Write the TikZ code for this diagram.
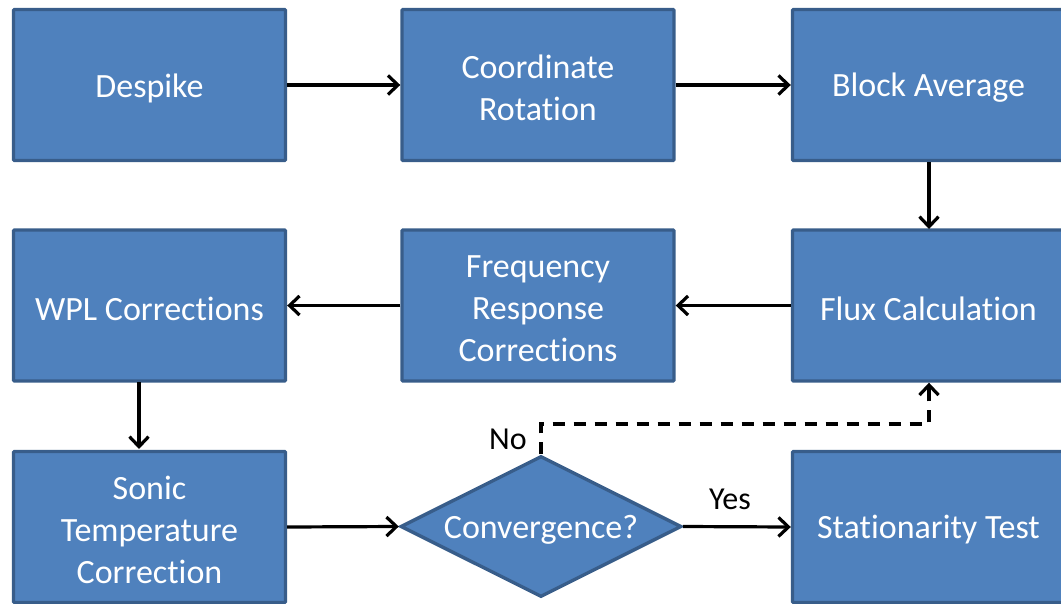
\documentclass[tikz,border=0pt]{standalone}
\usepackage{fontspec}
\setmainfont{Carlito}[Ligatures=NoCommon]
\usetikzlibrary{shapes.geometric,arrows.meta}
\definecolor{boxfill}{HTML}{4F81BD}
\definecolor{boxedge}{HTML}{385D8A}
\tikzset{
  stepbox/.style={rectangle, fill=boxfill, draw=boxedge, line width=3.4pt,
    minimum width=272pt, minimum height=151pt, rounded corners=1pt, inner sep=0pt},
  boxtext/.style={text=white, align=center, font=\fontsize{34}{42}\selectfont,
    inner sep=0pt, yshift=-3pt},
  decide/.style={diamond, fill=boxfill, draw=boxedge, line width=3.4pt,
    minimum width=281pt, minimum height=141pt, inner sep=0pt},
  tip/.style={-{Straight Barb[length=10pt,width=19pt,line width=3.2pt]}},
  flow/.style={line width=3.2pt, tip},
  lbl/.style={text=black, font=\fontsize{32}{38}\selectfont, inner sep=0pt}
}
\begin{document}
\begin{tikzpicture}[x=1pt,y=-1pt]
\useasboundingbox (0,0) rectangle (1061,603);
\clip (0,0) rectangle (1061,603);
\node[stepbox, label={[boxtext]center:Despike}] (despike) at (149.5,85) {};
\node[stepbox, label={[boxtext]center:{Coordinate\\Rotation}}] (rot) at (538,85) {};
\node[stepbox, label={[boxtext]center:Block Average}] (block) at (928.5,85) {};
\node[stepbox, label={[boxtext]center:WPL Corrections}] (wpl) at (149.5,305.5) {};
\node[stepbox, label={[boxtext]center:{Frequency\\Response\\Corrections}}] (freq) at (538,305.5) {};
\node[stepbox, label={[boxtext]center:Flux Calculation}] (flux) at (928.5,305.5) {};
\node[stepbox, label={[boxtext]center:{Sonic\\Temperature\\Correction}}] (sonic) at (149.5,527) {};
\node[stepbox, label={[boxtext]center:Stationarity Test}] (stat) at (928.5,527) {};
\node[decide, label={[boxtext]center:Convergence?}] (conv) at (541,526.5) {};
\coordinate (turnA) at (541,424);
\coordinate (turnB) at (929,424);

\draw[flow] (despike.east) -- (rot.west);
\draw[flow] (rot.east) -- (block.west);
\draw[flow] (929,162) -- (929,229);
\draw[flow] (flux.west) -- (freq.east);
\draw[flow] (freq.west) -- (wpl.west -| wpl.east);
\draw[flow] (139,382) -- (139,449);
\draw[flow] (sonic.east) -- (conv.west);
\draw[flow] (conv.east) -- (stat.west);
\draw[line width=3.2pt, dash pattern=on 12pt off 9pt] (conv.north) -- (turnA) -- (turnB) -- (929,398);
\draw[line width=3.2pt, tip] (929,398) -- (flux.south -| turnB);
\node[lbl] (no) at (508,439) {No};
\node[lbl] (yes) at (730,499) {Yes};
\end{tikzpicture}
\end{document}
